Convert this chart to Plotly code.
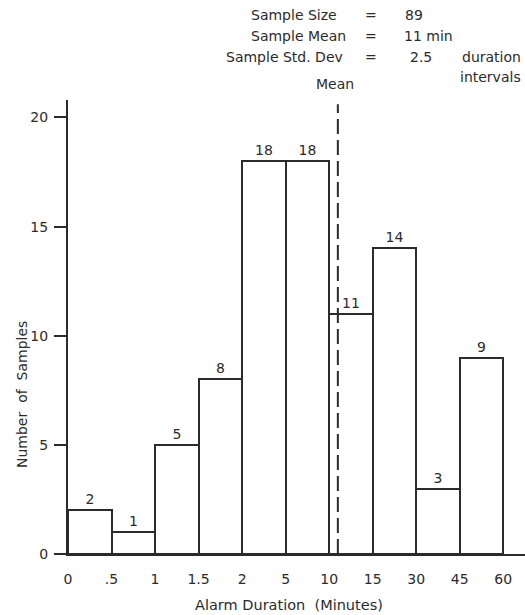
import plotly.graph_objects as go

edge_labels = ["0", ".5", "1", "1.5", "2", "5", "10", "15", "30", "45", "60"]
counts = [2, 1, 5, 8, 18, 18, 11, 14, 3, 9]
mean_pos = 6.2  # 11 min lies 1/5 into the 10-15 interval
y_ticks = [0, 5, 10, 15, 20]

FONT = "DejaVu Sans"
INK = "#2b2b2b"
W, H = 525, 615
L, R, T, B = 68, 0, 100, 61

centers = [i + 0.5 for i in range(len(counts))]

fig = go.Figure()
fig.add_trace(go.Bar(
    x=centers, y=counts, width=1,
    marker=dict(color="white", line=dict(color=INK, width=2)),
    text=[str(c) for c in counts], textposition="outside",
    textfont=dict(family=FONT, size=14, color=INK),
    cliponaxis=False, showlegend=False,
))

fig.add_shape(type="line", x0=mean_pos, x1=mean_pos, y0=0, y1=20.6,
              line=dict(color=INK, width=2, dash="15px,6px"))

fig.update_layout(
    width=W, height=H,
    margin=dict(l=L, r=R, t=T, b=B, autoexpand=False),
    paper_bgcolor="white", plot_bgcolor="white",
    font=dict(family=FONT, size=14, color=INK),
    bargap=0,
    xaxis=dict(range=[0, 10.5], tickmode="array", automargin=False,
               tickvals=list(range(len(edge_labels))), ticktext=edge_labels,
               showline=True, linecolor=INK, linewidth=2, ticks="",
               showgrid=False, zeroline=False, ticklabelstandoff=11,
               tickfont=dict(size=14)),
    yaxis=dict(range=[0, 20.8], tickvals=y_ticks, showline=True, linecolor=INK,
               linewidth=2, ticks="outside", ticklen=12, tickwidth=2,
               tickcolor=INK, showgrid=False, zeroline=False, automargin=False,
               ticklabelstandoff=3, tickfont=dict(size=14)),
)

pw, ph = W - L - R, H - T - B


def px(x, y):
    return (x - L) / pw, (H - B - y) / ph


ann = [
    (339, 15, "Sample Size", "right", 14),
    (348, 36, "Sample Mean", "right", 14),
    (345, 57, "Sample Std. Dev", "right", 14),
    (371, 15, "=", "center", 14),
    (371, 36, "=", "center", 14),
    (371, 57, "=", "center", 14),
    (403, 15, "89", "left", 14),
    (402, 36, "11 min", "left", 14),
    (408, 57, "2.5", "left", 14),
    (460, 57, "duration", "left", 14),
    (523, 77, "intervals", "right", 14),
    (335, 84, "Mean", "center", 14),
    (289, 605, "Alarm Duration  (Minutes)", "center", 14.5),
]
for x, y, t, xa, fs in ann:
    ax, ay = px(x, y)
    fig.add_annotation(x=ax, y=ay, xref="paper", yref="paper",
                       xanchor=xa, yanchor="middle", text=t,
                       showarrow=False, font=dict(family=FONT, size=fs, color=INK))

ax, ay = px(22, 395)
fig.add_annotation(x=ax, y=ay, xref="paper", yref="paper",
                   text="Number  of  Samples", textangle=-90, showarrow=False,
                   xanchor="center", yanchor="middle",
                   font=dict(family=FONT, size=14, color=INK))

fig.write_html("out.html", post_script="document.body.style.margin='0';",
               config={"displayModeBar": False})
